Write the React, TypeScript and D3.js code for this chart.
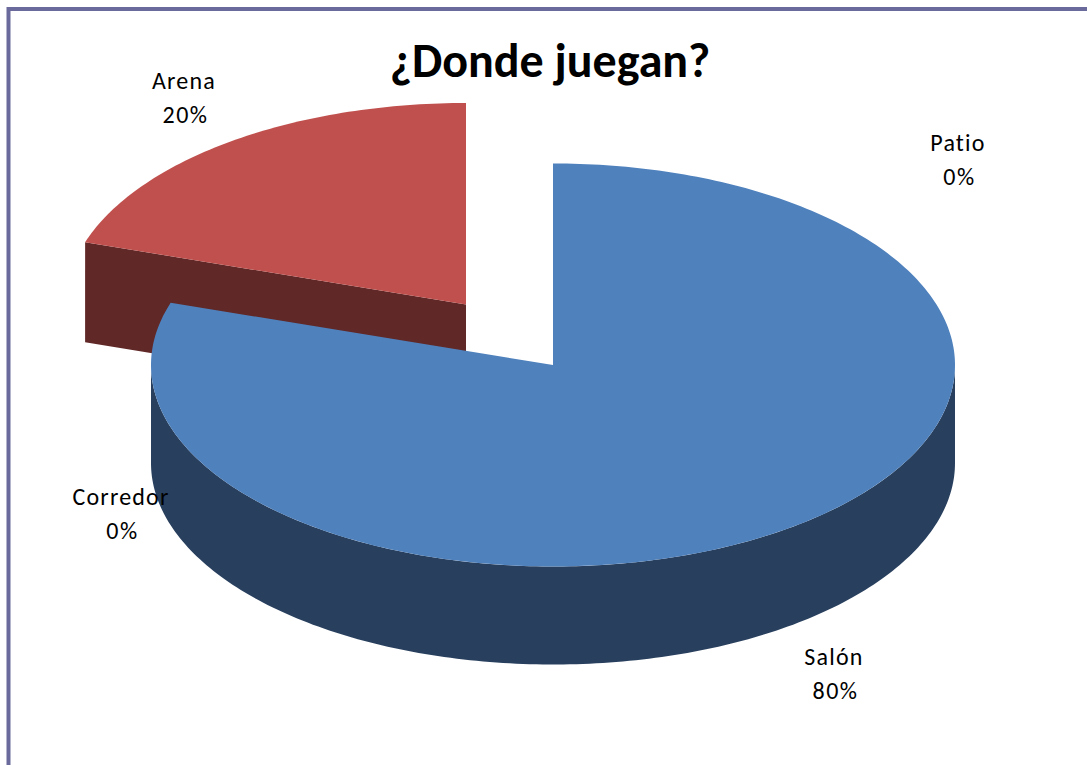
import React from "react";
import * as d3 from "d3";

const categories = ["Patio", "Salón", "Corredor", "Arena"];
const values = [0, 80, 0, 20];
const percentLabels = ["0%", "80%", "0%", "20%"];
const topColors = ["#4f81bd", "#4f81bd", "#9bbb59", "#c0504d"];
const wallColors = ["#283f5e", "#283f5e", "#4d5d2c", "#602827"];
const sliceCenters = [
  { x: 553, y: 365 },
  { x: 553, y: 365 },
  { x: 553, y: 365 },
  { x: 466, y: 304.5 },
];
const sliceRadiusX = [402, 402, 402, 400.5];
const sliceDepth = [98, 98, 98, 100];
const labelAnchors = [
  { x: 958, y: 143 },
  { x: 834, y: 657 },
  { x: 121, y: 497 },
  { x: 184, y: 81 },
];
const title = "¿Donde juegan?";

const W = 1087;
const H = 765;
const RY = 201.5;
const FONT = "Carlito, Calibri, 'Open Sans', sans-serif";

const pie = d3.pie<number>().sort(null).value((d) => d);
const arcs = pie(values);
const pt = (i: number, a: number, dy = 0): [number, number] => [
  sliceCenters[i].x + sliceRadiusX[i] * Math.sin(a),
  sliceCenters[i].y - RY * Math.cos(a) + dy,
];
const line = d3.line<[number, number]>();
const samples = (a0: number, a1: number) => {
  const n = Math.max(2, Math.ceil(Math.abs(a1 - a0) * 60));
  return d3.range(n + 1).map((k) => a0 + ((a1 - a0) * k) / n);
};

function topPath(i: number) {
  const c = sliceCenters[i];
  const { startAngle, endAngle } = arcs[i];
  return line([[c.x, c.y], ...samples(startAngle, endAngle).map((a) => pt(i, a))]) + "Z";
}
function outerWall(i: number) {
  const a0 = Math.max(arcs[i].startAngle, Math.PI / 2);
  const a1 = Math.min(arcs[i].endAngle, (3 * Math.PI) / 2);
  if (a1 <= a0) return "";
  const s = samples(a0, a1);
  return (
    line([...s.map((a) => pt(i, a)), ...s.slice().reverse().map((a) => pt(i, a, sliceDepth[i]))]) +
    "Z"
  );
}
function cutWall(i: number) {
  const c = sliceCenters[i];
  const a = arcs[i].startAngle;
  return line([[c.x, c.y], pt(i, a), pt(i, a, sliceDepth[i]), [c.x, c.y + sliceDepth[i]]]) + "Z";
}

export default function App() {
  const order = [3, 1];
  return (
    <svg
      width={W}
      height={H}
      viewBox={`0 0 ${W} ${H}`}
      style={{ position: "absolute", left: 0, top: 0, background: "#fff" }}
    >
      <path d={`M8.5 ${H}V9H${W}`} fill="none" stroke="#6a6a9c" strokeWidth={4} />
      {order.map((i) => (
        <g key={categories[i]}>
          {arcs[i].endAngle - arcs[i].startAngle < 2 && (
            <path d={cutWall(i)} fill={wallColors[i]} />
          )}
          <path d={outerWall(i)} fill={wallColors[i]} />
          <path d={topPath(i)} fill={topColors[i]} />
        </g>
      ))}
      <text
        x={550}
        y={77}
        textAnchor="middle"
        fontFamily={FONT}
        fontWeight={700}
        fontSize={48}
        fill="#000"
      >
        {title}
      </text>
      {categories.map((c, i) => (
        <g key={c} fontFamily={FONT} fontSize={24} fill="#000" textAnchor="middle">
          <text x={labelAnchors[i].x} y={labelAnchors[i].y + 8} letterSpacing={1.2}>
            {c}
          </text>
          <text x={labelAnchors[i].x + 1.5} y={labelAnchors[i].y + 42} letterSpacing={1.5}>
            {percentLabels[i]}
          </text>
        </g>
      ))}
    </svg>
  );
}
